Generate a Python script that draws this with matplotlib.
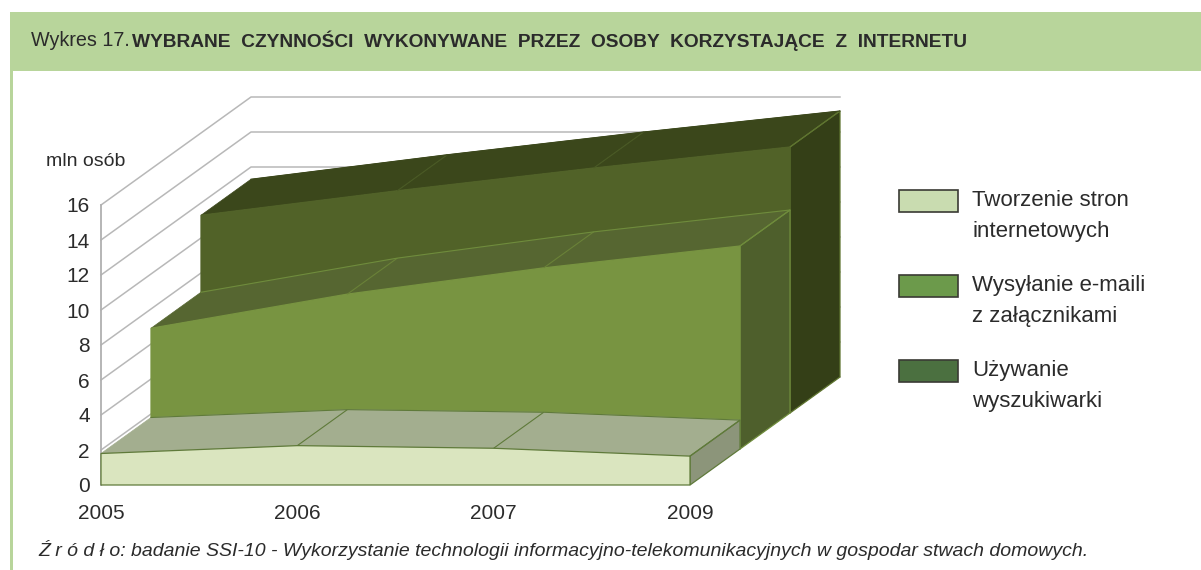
#!/usr/bin/env python3

import matplotlib
matplotlib.use('Agg')
import matplotlib.pyplot as plt
from matplotlib.patches import Polygon, Rectangle

# data, mln osob
years = ['2005', '2006', '2007', '2009']
yticks = [0, 2, 4, 6, 8, 10, 12, 14, 16]
strony = [1.8, 2.25, 2.1, 1.65]
maile = [6.9, 8.85, 10.35, 11.6]
wyszukiwarka = [11.3, 12.7, 14.0, 15.2]

legend_labels = ['Tworzenie stron\ninternetowych',
                 'Wysyłanie e-maili\nz załącznikami',
                 'Używanie\nwyszukiwarki']
legend_colors = ['#c9dcb0', '#6c9a4b', '#4b7040']

FIG_W = 1201
FIG_H = 570
# one depth step of the fake 3d, in axes data units
DEPTH_X = 50 / 196.33
DEPTH_Y = 36 / 17.5
TEXT = '#2b2b2b'
FONT = 'Liberation Sans'


def pt(cat, val, depth):
  return (cat + depth * DEPTH_X, val + depth * DEPTH_Y)


def drawSeries(ax, values, depth, z, front, top, side, edge, front_edge, back_edge, inner):
  n = len(values)
  cats = list(range(n))
  # upper surface, one strip per category gap
  for i in range(n - 1):
    quad = [pt(cats[i], values[i], depth), pt(cats[i + 1], values[i + 1], depth),
            pt(cats[i + 1], values[i + 1], depth + 1), pt(cats[i], values[i], depth + 1)]
    ax.add_patch(Polygon(quad, facecolor=top, edgecolor=top, lw=0.5, clip_on=False, zorder=z))
  # end face
  end = [pt(n - 1, 0, depth), pt(n - 1, 0, depth + 1),
         pt(n - 1, values[-1], depth + 1), pt(n - 1, values[-1], depth)]
  ax.add_patch(Polygon(end, facecolor=side, edgecolor=edge, lw=0.9, clip_on=False, zorder=z))
  # front face
  outline = [pt(0, 0, depth)] + [pt(c, v, depth) for c, v in zip(cats, values)]
  outline.append(pt(n - 1, 0, depth))
  ax.add_patch(Polygon(outline, facecolor=front, edgecolor=front_edge, lw=0.9, clip_on=False,
                       zorder=z + 0.1))
  # the lines running back over the top
  for c, v in zip(cats, values):
    if c == 0:
      continue
    a = pt(c, v, depth)
    b = pt(c, v, depth + 1)
    ax.plot([a[0], b[0]], [a[1], b[1]], color=edge if c == n - 1 else inner, lw=0.8,
            clip_on=False, solid_capstyle='butt', zorder=z + 0.2)
  back = [pt(c, v, depth + 1) for c, v in zip(cats, values)]
  ax.plot([p[0] for p in back], [p[1] for p in back], color=back_edge, lw=0.8, clip_on=False,
          zorder=z + 0.2)


fig = plt.figure(figsize=(FIG_W / 100, FIG_H / 100), dpi=100, facecolor='white')

# page furniture, in pixels
bg = fig.add_axes([0, 0, 1, 1])
bg.set_xlim(0, FIG_W)
bg.set_ylim(FIG_H, 0)
bg.axis('off')
bg.add_patch(Rectangle((10, 12), FIG_W - 10, 59, facecolor='#b8d59b', edgecolor='none'))
bg.add_patch(Rectangle((10, 71), 2.5, FIG_H - 71, facecolor='#b8d59b', edgecolor='none'))
bg.text(31, 41, 'Wykres 17.', family=FONT, fontsize=14.2, color=TEXT, va='center')
bg.text(132, 41, 'WYBRANE  CZYNNOŚCI  WYKONYWANE  PRZEZ  OSOBY  KORZYSTAJĄCE  Z  INTERNETU',
        family=FONT, weight='bold', fontsize=13.75, color=TEXT, va='center')
bg.text(46, 162, 'mln osób', family=FONT, fontsize=14, color=TEXT, va='center')
bg.text(38, 550,
        'Ź r ó d ł o: badanie SSI-10 - Wykorzystanie technologii informacyjno-telekomunikacyjnych w gospodar stwach domowych.',
        family=FONT, style='italic', fontsize=14, color=TEXT, va='center')

for i, (label, color) in enumerate(zip(legend_labels, legend_colors)):
  y = 190 + 85 * i
  bg.add_patch(Rectangle((899, y), 59, 22, facecolor=color, edgecolor='#3a3a34', lw=1.2))
  bg.text(972, y + 26, label, family=FONT, fontsize=16, color=TEXT, va='center',
          linespacing=1.6)

# chart, the axes box is the front plane
ax = fig.add_axes([101 / FIG_W, 1 - 485 / FIG_H, 589 / FIG_W, 280 / FIG_H])
ax.patch.set_alpha(0)
ax.set_xlim(0, len(years) - 1)
ax.set_ylim(0, 16)
for s in ['top', 'right', 'bottom']:
  ax.spines[s].set_visible(False)
ax.spines['left'].set_color('#b0b0b0')
ax.spines['left'].set_linewidth(1.3)
ax.spines['left'].set_zorder(0.5)
ax.set_xticks(range(len(years)))
ax.set_xticklabels(years, family=FONT, fontsize=15, color=TEXT)
ax.set_yticks(yticks)
ax.set_yticklabels([str(t) for t in yticks], family=FONT, fontsize=15, color=TEXT)
ax.tick_params(axis='x', length=0, pad=14)
ax.tick_params(axis='y', length=0, pad=8)

# walls
for t in yticks:
  a = pt(0, t, 0)
  b = pt(0, t, 3)
  c = pt(len(years) - 1, t, 3)
  ax.plot([a[0], b[0], c[0]], [a[1], b[1], c[1]], color='#b8b8b8', lw=1.1, clip_on=False,
          zorder=0.5)

drawSeries(ax, wyszukiwarka, 2, 1, '#516228', '#3b471b', '#343f17', '#5f7530', '#516228', '#3b471b', '#4a5a25')
drawSeries(ax, maile, 1, 2, '#789441', '#566631', '#4e5f2c', '#6f8c3c', '#789441', '#6f8c3c', '#6a8238')
drawSeries(ax, strony, 0, 3, '#dae5bf', '#a3ae8f', '#8c957a', '#5f7a3a', '#5f7a3a', '#5f7a3a', '#5f7a3a')

fig.savefig('out.png', dpi=100)
